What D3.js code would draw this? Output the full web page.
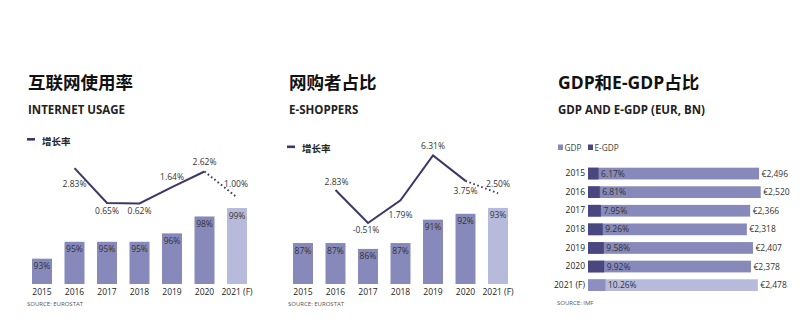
<!DOCTYPE html>
<html><head><meta charset="utf-8">
<script src="https://cdn.jsdelivr.net/npm/d3@7"></script>
<style>
body{margin:0;background:#fff;}
svg{display:block;font-family:"Open Sans","Noto Sans CJK SC",sans-serif;}
</style></head><body>
<svg id="chart" width="800" height="329"></svg>
<script>
// ---- data ----
const years = ["2015", "2016", "2017", "2018", "2019", "2020", "2021 (F)"];
const usageShare = [93, 95, 95, 95, 96, 98, 99];            // internet usage, % of population
const usageGrowth = [null, 2.83, 0.65, 0.62, 1.64, 2.62, 1.00]; // growth rate, %
const shopperShare = [87, 87, 86, 87, 91, 92, 93];          // e-shoppers, % of internet users
const shopperGrowth = [null, 2.83, -0.51, 1.79, 6.31, 3.75, 2.50];
const gdpValue = [2496, 2520, 2366, 2318, 2407, 2378, 2478]; // EUR bn
const eGdpShare = [6.17, 6.81, 7.95, 9.26, 9.58, 9.92, 10.26]; // e-GDP as % of GDP
const forecastIndex = 6;

// ---- styling ----
const C = {
  bar: "#8689ba", barF: "#b8badb",
  egdp: "#4a467f", egdpF: "#8c8fbf",
  line: "#3b3768", text: "#333", title: "#111", source: "#555"
};
const FONT = '"Open Sans","Noto Sans CJK SC",sans-serif';

const svg = d3.select("#chart");
const pct = v => v.toFixed(2) + "%";

function titles(x, zh, en) {
  svg.append("text").attr("x", x).attr("y", 89).attr("font-size", 17.5)
    .attr("font-weight", 700).attr("fill", C.title).text(zh);
  svg.append("text").attr("x", x).attr("y", 113.5).attr("font-size", 11.5)
    .attr("font-weight", 700).attr("fill", "#222").text(en);
}

function lineLegend(x, y) {
  svg.append("rect").attr("x", x).attr("y", y - 1.5).attr("width", 8).attr("height", 2.6).attr("fill", C.line);
  svg.append("text").attr("x", x + 15).attr("y", y + 5).attr("font-size", 9.5)
    .attr("font-weight", 700).attr("fill", "#222").text("增长率");
}

function source(x, y, t) {
  svg.append("text").attr("x", x).attr("y", y).attr("font-size", 6).attr("fill", C.source).text(t);
}

// Column chart with an overlaid growth-rate line
function columnPanel(o) {
  const x = d3.scaleBand().domain(years).range(o.xRange).paddingInner(0.385).paddingOuter(0);
  const yBar = d3.scaleLinear().domain(o.barDomain).range(o.barRange);
  const yLine = d3.scaleLinear().domain(o.lineDomain).range(o.lineRange);
  const g = svg.append("g");

  g.selectAll("rect.bar").data(o.share).join("rect")
    .attr("x", (d, i) => x(years[i]))
    .attr("y", d => yBar(d))
    .attr("width", x.bandwidth())
    .attr("height", d => yBar(o.barDomain[0]) - yBar(d))
    .attr("fill", (d, i) => i === forecastIndex ? C.barF : C.bar);

  g.selectAll("text.val").data(o.share).join("text")
    .attr("x", (d, i) => x(years[i]) + x.bandwidth() / 2)
    .attr("y", d => yBar(d) + 10.5)
    .attr("text-anchor", "middle").attr("font-size", 8.5).attr("fill", C.text)
    .text(d => d + "%");

  const pts = o.growth.map((v, i) => ({ v, i })).filter(p => p.v !== null);
  const cx = p => x(years[p.i]) + x.bandwidth() / 2;
  const line = d3.line().x(cx).y(p => yLine(p.v));
  const actual = pts.filter(p => p.i < forecastIndex);
  const proj = pts.filter(p => p.i >= forecastIndex - 1);
  g.append("path").attr("d", line(actual)).attr("fill", "none")
    .attr("stroke", C.line).attr("stroke-width", 2).attr("stroke-linejoin", "miter");
  g.append("path").attr("d", line(proj)).attr("fill", "none")
    .attr("stroke", C.line).attr("stroke-width", 2).attr("stroke-dasharray", "1.6,2.6");

  g.selectAll("text.gr").data(pts).join("text")
    .attr("x", p => cx(p) + o.labelOff[p.i][0])
    .attr("y", p => yLine(p.v) + o.labelOff[p.i][1])
    .attr("text-anchor", "middle").attr("font-size", 8.5).attr("fill", C.text)
    .text(p => pct(p.v));

  const ax = g.append("g").attr("transform", `translate(0,${o.barRange[0]})`)
    .call(d3.axisBottom(x).tickSize(0))
    .attr("font-family", FONT).attr("font-size", 8.5);
  ax.select(".domain").remove();
  ax.selectAll("text").attr("dy", null).attr("y", 10.5).attr("fill", "#222");
}

// ---- panel 1: internet usage ----
titles(28, "互联网使用率", "INTERNET USAGE");
lineLegend(27, 139.5);
columnPanel({
  xRange: [32, 247], share: usageShare, growth: usageGrowth,
  barDomain: [90, 100], barRange: [284, 199.6],
  lineDomain: [0, 3], lineRange: [213.4, 165.4],
  labelOff: [null, [0, 19], [0, 10.5], [0, 11], [0, -7.5], [0, -6], [-1, -10.5]]
});
source(27, 306, "SOURCE: EUROSTAT");

// ---- panel 2: e-shoppers ----
titles(289, "网购者占比", "E-SHOPPERS");
lineLegend(287, 147);
columnPanel({
  xRange: [293, 508], share: shopperShare, growth: shopperGrowth,
  barDomain: [80, 95], barRange: [284, 196.25],
  lineDomain: [-1, 7], lineRange: [227.9, 148.7],
  labelOff: [null, [1, -5], [-2, 10], [0, 18], [0, -6.5], [0, 13], [0, -6]]
});
source(288, 306, "SOURCE: EUROSTAT");

// ---- panel 3: GDP and e-GDP ----
titles(558, "GDP和E-GDP占比", "GDP AND E-GDP (EUR, BN)");
(function () {
  const lg = svg.append("g").attr("font-size", 8.3).attr("fill", "#444");
  lg.append("rect").attr("x", 558).attr("y", 144.5).attr("width", 5).attr("height", 5.5).attr("fill", C.bar);
  lg.append("text").attr("x", 564.5).attr("y", 150.5).text("GDP");
  lg.append("rect").attr("x", 588).attr("y", 144.5).attr("width", 5).attr("height", 5.5).attr("fill", C.egdp);
  lg.append("text").attr("x", 594.5).attr("y", 150.5).text("E-GDP");

  const y = d3.scaleBand().domain(years).range([167.7, 291]).paddingInner(0.37).paddingOuter(0);
  const x = d3.scaleLinear().domain([0, 2520]).range([588, 760.7]);
  const g = svg.append("g");
  const rows = years.map((yr, i) => ({ yr, i, gdp: gdpValue[i], share: eGdpShare[i], egdp: gdpValue[i] * eGdpShare[i] / 100 }));

  g.selectAll("rect.gdp").data(rows).join("rect")
    .attr("x", x(0)).attr("y", d => y(d.yr))
    .attr("width", d => x(d.gdp) - x(0)).attr("height", y.bandwidth())
    .attr("fill", d => d.i === forecastIndex ? C.barF : C.bar);
  g.selectAll("rect.egdp").data(rows).join("rect")
    .attr("x", x(0)).attr("y", d => y(d.yr))
    .attr("width", d => x(d.egdp) - x(0)).attr("height", y.bandwidth())
    .attr("fill", d => d.i === forecastIndex ? C.egdpF : C.egdp);

  g.selectAll("text.share").data(rows).join("text")
    .attr("x", d => x(d.egdp) + 2.5).attr("y", d => y(d.yr) + y.bandwidth() / 2 + 3)
    .attr("font-size", 8.5).attr("fill", C.text).text(d => pct(d.share));
  g.selectAll("text.gdpv").data(rows).join("text")
    .attr("x", d => x(d.gdp) + 2.5).attr("y", d => y(d.yr) + y.bandwidth() / 2 + 3)
    .attr("font-size", 8.5).attr("fill", C.text).text(d => "€" + d3.format(",")(d.gdp));

  const ax = g.append("g").attr("transform", `translate(${x(0)},0)`)
    .call(d3.axisLeft(y).tickSize(0).tickPadding(3))
    .attr("font-family", FONT).attr("font-size", 8.5);
  ax.select(".domain").remove();
  ax.selectAll("text").attr("fill", "#222");
})();
source(557, 305, "SOURCE: IMF");
</script>
</body></html>
